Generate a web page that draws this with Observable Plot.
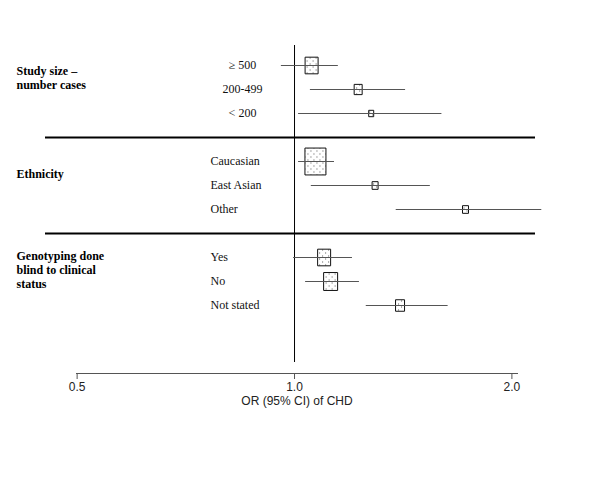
<!DOCTYPE html>
<html><head><meta charset="utf-8">
<script src="https://cdn.jsdelivr.net/npm/d3@7"></script>
<script src="https://cdn.jsdelivr.net/npm/@observablehq/plot@0.6"></script>
<style>body{margin:0;background:#fff}</style>
</head><body><div id="chart"></div>
<script>
// ---- data ----
const groups = ["Study size –\nnumber cases", "Ethnicity", "Genotyping done\nblind to clinical\nstatus"];
const subgroups = ["≥ 500", "200-499", "< 200", "Caucasian", "East Asian", "Other", "Yes", "No", "Not stated"];
const groupOf = [0, 0, 0, 1, 1, 1, 2, 2, 2];
const oddsRatio = [1.056, 1.225, 1.277, 1.069, 1.293, 1.725, 1.099, 1.122, 1.400];
const ciLow =     [0.959, 1.052, 1.013, 1.013, 1.055, 1.383, 0.997, 1.036, 1.257];
const ciHigh =    [1.150, 1.425, 1.600, 1.136, 1.542, 2.200, 1.203, 1.230, 1.632];
const weight =    [16.9, 6.4, 2.5, 44.1, 3.6, 3.6, 16.9, 19.6, 8.1];
const xTicks = [0.5, 1, 2];
const xLabel = "OR (95% CI) of CHD";

const rows = subgroups.map((s, i) => ({label: s, group: groupOf[i], or: oddsRatio[i], lo: ciLow[i], hi: ciHigh[i], weight: weight[i]}));
const yDomain = [];
groups.forEach((g, gi) => {
  if (gi > 0) yDomain.push("sep" + gi);
  rows.filter(r => r.group === gi).forEach(r => yDomain.push(r.label));
});
const separators = yDomain.filter(d => d.startsWith("sep"));
const groupHeads = groups.map((g, gi) => ({name: g, first: rows.find(r => r.group === gi).label}));

const box = {
  draw(context, size) {
    const r = Math.sqrt(size / Math.PI), w = r, h = r * 1.28;
    context.moveTo(-w, -h); context.lineTo(w, -h); context.lineTo(w, h); context.lineTo(-w, h); context.closePath();
  }
};
const serif = "Liberation Serif, Times New Roman, serif";

const chart = Plot.plot({
  width: 600, height: 486,
  marginTop: 45, marginBottom: 113, marginLeft: 76, marginRight: 83,
  style: {fontFamily: "Liberation Sans, Arial, sans-serif", fontSize: "12px", color: "#222", background: "#fff"},
  x: {type: "log", domain: [0.499, 2.036]},
  y: {type: "point", domain: yDomain, padding: 0, insetTop: 18, insetBottom: 67, axis: null},
  r: {type: "sqrt", domain: [0, 44.1], range: [0, 10.5]},
  marks: [
    Plot.ruleX([1], {stroke: "#000", insetBottom: 11}),
    Plot.ruleY(separators, {stroke: "#000", strokeWidth: 2, insetLeft: -31, insetRight: -18}),
    Plot.frame({anchor: "bottom", stroke: "#555"}),
    Plot.axisX({ticks: xTicks, tickFormat: d3.format(".1f"), tickSize: 6, tickPadding: 3, label: null, stroke: "#555"}),
    Plot.text([xLabel], {frameAnchor: "bottom", dy: 31, fill: "#222"}),
    Plot.dot(rows, {x: "or", y: "label", r: "weight", symbol: box, fill: "url(#dots)", stroke: "#111", strokeWidth: 1}),
    Plot.ruleY(rows, {y: "label", x1: "lo", x2: "hi", stroke: "#555"}),
    Plot.text(rows.filter(r => r.group === 0), {y: "label", text: "label", frameAnchor: "left", dx: 166, textAnchor: "middle", fontFamily: serif, fontSize: 12, fill: "#111"}),
    Plot.text(rows.filter(r => r.group > 0), {y: "label", text: "label", frameAnchor: "left", dx: 134, textAnchor: "start", fontFamily: serif, fontSize: 12, fill: "#111"}),
    Plot.text(groupHeads, {y: "first", text: "name", frameAnchor: "left", dx: -60, dy: 12, textAnchor: "start", fontFamily: serif, fontSize: 12, fontWeight: "bold", lineHeight: 1.17, fill: "#000"})
  ]
});

const defs = d3.select(chart).insert("defs", ":first-child");
const pat = defs.append("pattern").attr("id", "dots").attr("width", 6).attr("height", 6).attr("patternUnits", "userSpaceOnUse");
pat.append("rect").attr("width", 6).attr("height", 6).attr("fill", "#fff");
pat.append("rect").attr("x", 1).attr("y", 1).attr("width", 1).attr("height", 1).attr("fill", "#555");
pat.append("rect").attr("x", 4).attr("y", 4).attr("width", 1).attr("height", 1).attr("fill", "#555");

document.getElementById("chart").append(chart);
</script>
</body></html>
